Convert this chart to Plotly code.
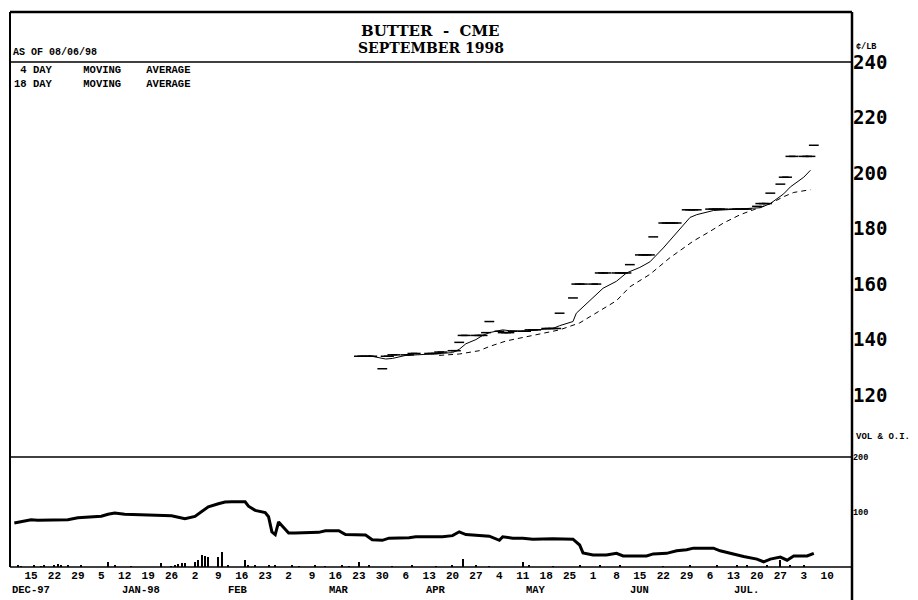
import pandas as pd
import plotly.graph_objects as go

# ---------------- data ----------------
HOLIDAYS = ["1998-04-10", "1998-05-25", "1998-07-03"]

# daily settlement (cents/lb), Sept 1998 butter, one entry per trading day from 1998-03-23
PRICE = (
    [134, 134, 134, 134, 134] +             # wk Mar 23
    [129.5, 134, 134, 134.5, 134.5] +       # wk Mar 30
    [134.5, 134.5, 135, 135] +              # wk Apr 6
    [135, 135, 135, 135.5, 135.5] +         # wk Apr 13
    [136, 136, 139, 141.5, 141.5] +         # wk Apr 20
    [141.5, 141.5, 141.5, 142.5, 146.5] +   # wk Apr 27
    [143, 142.5, 142.5, 142.5, 143] +       # wk May 4
    [143, 143, 143.5, 143.5, 143.5] +       # wk May 11
    [144, 144, 144, 144, 149.5] +           # wk May 18
    [155, 160, 160, 160] +                  # wk May 26
    [160, 160, 164, 164, 164] +             # wk Jun 1
    [164, 164, 164, 164, 167] +             # wk Jun 8
    [170.5, 170.5, 170.5, 170.5, 177] +     # wk Jun 15
    [182, 182, 182, 182, 182] +             # wk Jun 22
    [186.75, 186.75, 186.75, 186.75] +      # wk Jun 29
    [187, 187, 187, 187, 187] +             # wk Jul 6
    [187, 187, 187, 187, 187] +             # wk Jul 13
    [188, 189, 189, 189, 192.75] +          # wk Jul 20
    [196, 198.5, 198.5, 206, 206] +         # wk Jul 27
    [206, 206, 206, 210]                    # wk Aug 3
)

MA4_DATES = ["1998-03-26", "1998-03-31", "1998-04-02", "1998-04-06", "1998-04-14", "1998-04-20",
             "1998-04-22", "1998-04-24", "1998-04-27", "1998-04-29", "1998-05-01", "1998-05-05",
             "1998-05-07", "1998-05-12", "1998-05-15", "1998-05-20", "1998-05-22", "1998-05-26",
             "1998-05-27", "1998-06-01", "1998-06-04", "1998-06-08", "1998-06-11", "1998-06-15",
             "1998-06-18", "1998-06-22", "1998-06-25", "1998-06-30", "1998-07-02", "1998-07-07",
             "1998-07-14", "1998-07-21", "1998-07-24", "1998-07-28", "1998-07-30", "1998-08-03",
             "1998-08-05"]
MA4 = [134.2, 133, 133.2, 134.3, 134.8, 135.3,
       136.5, 138.5, 140, 141.5, 142.5, 143.5,
       143.2, 143, 143.5, 144, 145, 146.5,
       149.5, 155, 158.5, 161, 164, 166,
       168, 173, 177, 184, 185, 186.5,
       187, 187.5, 189, 192.5, 195, 198.5,
       201]

MA18_DATES = ["1998-04-16", "1998-04-22", "1998-04-28", "1998-05-01", "1998-05-06", "1998-05-12",
              "1998-05-19", "1998-05-22", "1998-05-28", "1998-06-02", "1998-06-08", "1998-06-12",
              "1998-06-18", "1998-06-24", "1998-07-01", "1998-07-06", "1998-07-10", "1998-07-15",
              "1998-07-21", "1998-07-24", "1998-07-28", "1998-07-31", "1998-08-05"]
MA18 = [134.3, 134.8, 136, 137.5, 139.5, 141,
        142.5, 143.5, 146, 149.5, 154, 159,
        163.5, 169.5, 175.5, 179, 182, 185,
        187.5, 189, 191.5, 193, 194]

# open interest (lower panel)
OI_DATES = ["1997-12-10", "1997-12-12", "1997-12-15", "1997-12-17", "1997-12-22", "1997-12-26",
            "1997-12-29", "1998-01-02", "1998-01-05", "1998-01-07", "1998-01-09", "1998-01-12",
            "1998-01-16", "1998-01-20", "1998-01-26", "1998-01-28", "1998-01-30", "1998-02-02",
            "1998-02-04", "1998-02-06", "1998-02-09", "1998-02-11", "1998-02-13", "1998-02-17",
            "1998-02-18", "1998-02-19", "1998-02-20", "1998-02-23", "1998-02-24", "1998-02-25",
            "1998-02-26", "1998-02-27", "1998-03-02", "1998-03-04", "1998-03-09", "1998-03-11",
            "1998-03-13", "1998-03-17", "1998-03-19", "1998-03-23", "1998-03-25", "1998-03-27",
            "1998-03-30", "1998-04-01", "1998-04-07", "1998-04-09", "1998-04-17", "1998-04-20",
            "1998-04-21", "1998-04-22", "1998-04-24", "1998-04-28", "1998-05-01", "1998-05-04",
            "1998-05-05", "1998-05-08", "1998-05-11", "1998-05-14", "1998-05-20", "1998-05-26",
            "1998-05-28", "1998-05-29", "1998-06-01", "1998-06-05", "1998-06-08", "1998-06-10",
            "1998-06-17", "1998-06-19", "1998-06-23", "1998-06-26", "1998-06-29", "1998-07-01",
            "1998-07-07", "1998-07-09", "1998-07-13", "1998-07-16", "1998-07-20", "1998-07-22",
            "1998-07-24", "1998-07-27", "1998-07-29", "1998-07-31", "1998-08-04", "1998-08-06"]
OI = [80, 82, 86, 85, 85, 86,
      89.5, 91.4, 92.4, 96, 98, 96,
      95, 94, 93, 90.5, 87.6, 92,
      101, 109.5, 115, 118, 118.5, 118.5,
      110.5, 106.6, 103, 99, 91.4, 64,
      59, 82, 62, 62, 62, 63,
      66, 66, 59, 58, 58, 49.5,
      48.5, 52.4, 53.3, 55, 55, 57,
      60, 64, 59, 58, 56, 48.5,
      55, 52.4, 52.4, 50.5, 51.4, 50.5,
      40, 25.7, 22, 22, 24.8, 20,
      20, 23.8, 24.8, 29.5, 31.4, 34.3,
      34.3, 29.5, 22.8, 19, 14.3, 9.5,
      14.3, 18, 12.4, 20, 20, 24.8]

# volume ticks (lower panel)
VOL_DATES = ["1997-12-11", "1997-12-12", "1997-12-16", "1997-12-18", "1997-12-19", "1997-12-22",
             "1997-12-23", "1997-12-24", "1997-12-26", "1997-12-30", "1998-01-07", "1998-01-09",
             "1998-01-14", "1998-01-23", "1998-01-26", "1998-01-27", "1998-01-28", "1998-01-29",
             "1998-01-30", "1998-02-02", "1998-02-03", "1998-02-04", "1998-02-05", "1998-02-06",
             "1998-02-09", "1998-02-10", "1998-02-12", "1998-02-17", "1998-02-18", "1998-02-20",
             "1998-02-24", "1998-02-26", "1998-03-03", "1998-03-05", "1998-03-10", "1998-03-13",
             "1998-03-18", "1998-03-20", "1998-03-23", "1998-03-26", "1998-04-02", "1998-04-08",
             "1998-04-15", "1998-04-20", "1998-04-23", "1998-04-27", "1998-05-01", "1998-05-11",
             "1998-05-13", "1998-05-20", "1998-05-28", "1998-06-03", "1998-06-09", "1998-06-22",
             "1998-06-30", "1998-07-08", "1998-07-14", "1998-07-17", "1998-07-23", "1998-07-27",
             "1998-07-30", "1998-08-03"]
VOL = [2, 1, 2, 1, 4, 3,
       5, 4, 2, 3, 9, 2,
       1, 8, 1, 2, 5, 7,
       8, 9, 12, 21, 20, 19,
       19, 27, 2, 13, 3, 4,
       2, 4, 2, 1, 2, 1,
       3, 1, 9, 2, 1, 2,
       1, 2, 14, 2, 1, 10,
       3, 1, 2, 2, 2, 1,
       2, 2, 3, 2, 3, 12,
       2, 3]

PRICE_TICKS = [120, 140, 160, 180, 200, 220, 240]
OI_TICKS = [100, 200]
MONTH_LABELS = ["DEC-97", "JAN-98", "FEB", "MAR", "APR", "MAY", "JUN", "JUL."]
MONTH_POS = ["1997-12-15", "1998-01-17", "1998-02-15", "1998-03-17", "1998-04-15",
             "1998-05-15", "1998-06-15", "1998-07-17"]

# ---------------- derived categories ----------------
PRICE_DAYS = [d for d in pd.bdate_range("1998-03-23", "1998-08-06")
              if d.strftime("%Y-%m-%d") not in HOLIDAYS]
assert len(PRICE_DAYS) == len(PRICE)
TICK_DATES = list(pd.date_range("1997-12-15", "1998-08-10", freq="W-MON"))
TICK_TEXT = [str(d.day) for d in TICK_DATES]

# ---------------- figure ----------------
# the page body adds an 8px offset; size the figure so the page is 918x600
OFF = 8
W, H = 918 - OFF, 600 - OFF
PL, PR, PT, PB = 10, 852, 12, 567          # plot area in page pixels
L, R, T, B = PL - OFF, 918 - PR, PT - OFF, 600 - PB
PW, PH = PR - PL, PB - PT


def px(x):
    return (x - PL) / PW


def py(y):
    return (PB - y) / PH


fig = go.Figure()

fig.add_trace(go.Bar(x=VOL_DATES, y=VOL, yaxis="y2", width=0.33 * 86400000,
                     marker=dict(color="black", line=dict(width=0))))
fig.add_trace(go.Scatter(x=OI_DATES, y=OI, yaxis="y2", mode="lines",
                         line=dict(color="black", width=3)))
fig.add_trace(go.Scatter(x=MA18_DATES, y=MA18, mode="lines",
                         line=dict(color="black", width=1, dash="5px,4px")))
fig.add_trace(go.Scatter(x=MA4_DATES, y=MA4, mode="lines",
                         line=dict(color="black", width=1)))
fig.add_trace(go.Scatter(x=PRICE_DAYS, y=PRICE, mode="markers",
                         marker=dict(symbol="line-ew", size=7,
                                     line=dict(color="black", width=1.5))))

mono = "Liberation Mono"
fig.update_layout(
    template="none",
    width=W, height=H, margin=dict(l=L, r=R, t=T, b=B, pad=0, autoexpand=False),
    paper_bgcolor="white", plot_bgcolor="white", showlegend=False, bargap=0,
    xaxis=dict(type="date", range=["1997-12-08 17:00", "1998-08-17 10:00"], anchor="y2",
               tickmode="array", tickvals=TICK_DATES, ticktext=TICK_TEXT, automargin=False,
               showgrid=False, zeroline=False, showline=False, ticks="",
               tickfont=dict(family=mono, size=11, color="black", weight="bold")),
    yaxis=dict(domain=[py(457), py(62)], range=[97.7, 240], side="right", anchor="x",
               tickmode="array", tickvals=PRICE_TICKS, showgrid=False, zeroline=False,
               showline=False, ticks="", automargin=False,
               tickfont=dict(family="DejaVu Sans Mono", size=19, color="black", weight="bold")),
    yaxis2=dict(domain=[0, py(457)], range=[0, 200], side="right", anchor="x",
                tickmode="array", tickvals=OI_TICKS, showgrid=False, zeroline=False,
                showline=False, ticks="", automargin=False,
                tickfont=dict(family=mono, size=8.5, color="black", weight="bold")),
)

lines = [
    dict(x0=0, x1=1, y0=1, y1=1, w=2.5),
    dict(x0=0, x1=0, y0=0, y1=1, w=2),
    dict(x0=1, x1=1, y0=py(600), y1=1, w=2.5),
    dict(x0=0, x1=1, y0=py(62), y1=py(62), w=1.5),
    dict(x0=0, x1=1, y0=py(457), y1=py(457), w=1.5),
    dict(x0=0, x1=1, y0=0, y1=0, w=1.5),
]
for s in lines:
    fig.add_shape(type="line", xref="paper", yref="paper", x0=s["x0"], x1=s["x1"],
                  y0=s["y0"], y1=s["y1"], line=dict(color="black", width=s["w"]))

NB = "\u00a0"


def ann(text, x, y, size, family=mono, xanchor="left", xref="paper"):
    fig.add_annotation(text=text.replace(" ", NB), x=x, y=y, xref=xref, yref="paper",
                       xanchor=xanchor, yanchor="middle", showarrow=False,
                       font=dict(family=family, size=size, color="black", weight="bold"))


ann("BUTTER  -  CME", px(430), py(31), 15, family="DejaVu Serif", xanchor="center")
ann("SEPTEMBER 1998", px(431), py(48), 14, family="DejaVu Serif", xanchor="center")
ann("AS OF 08/06/98", px(11), py(52), 10)
ann(" 4 DAY     MOVING    AVERAGE", px(12), py(70), 10.5)
ann("18 DAY     MOVING    AVERAGE", px(12), py(84), 10.5)
ann("¢/LB", px(854), py(47), 8.5)
ann("VOL & O.I.", px(854), py(437), 9)
for lab, pos in zip(MONTH_LABELS, MONTH_POS):
    ann(lab, pos, py(590), 10.5, xanchor="center", xref="x")

fig.write_html("out.html")
